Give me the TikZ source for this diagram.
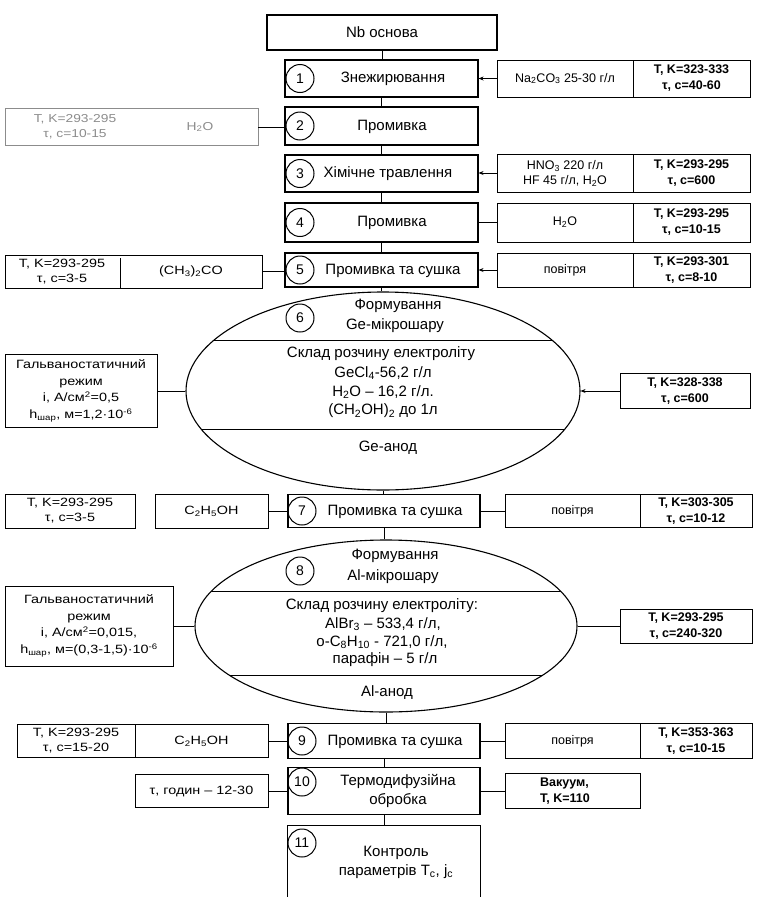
\documentclass[tikz,border=0pt]{standalone}
\usepackage{fontspec}
\setmainfont{Liberation Sans}
\newfontfamily\widesans[FakeStretch=1.2]{Liberation Sans}
\usetikzlibrary{shapes.geometric,arrows.meta}
\newcommand\sbs[1]{\textsubscript{#1}}
\newcommand\sps[1]{\textsuperscript{#1}}
\begin{document}
\begin{tikzpicture}[x=1pt,y=-1pt,
  box/.style={draw, line width=0.9pt, inner sep=0pt},
  wh/.style 2 args={minimum width=#1pt, minimum height=#2pt},
  mainbox/.style={box, line width=1.1pt},
  faint/.style={box, draw=black!45, line width=0.7pt},
  numc/.style={draw, circle, line width=1pt, minimum size=28pt, inner sep=0pt, font=\fontsize{14}{14}\selectfont},
  mt/.style={inner sep=0pt, align=center, font=\fontsize{15}{19}\selectfont},
  prm/.style={inner sep=0pt, align=center, font=\fontsize{12.5}{16}\selectfont\bfseries},
  ct/.style={inner sep=0pt, align=center, font=\fontsize{12.5}{15}\selectfont},
  gt/.style={inner sep=0pt, align=center, font=\widesans\fontsize{12}{15}\selectfont},
  galt/.style={inner sep=0pt, align=center, font=\widesans\fontsize{12}{16.5}\selectfont},
  ft/.style={inner sep=0pt, align=center, text=black!45, font=\widesans\fontsize{11.5}{15}\selectfont},
  con/.style={line width=1pt},
  arr/.style={line width=1pt, -{Stealth[length=5pt,width=4pt]}},
]
\useasboundingbox (0,0) rectangle (758,897);
\fill[white] (0,0) rectangle (758,897);

% ---------------- main column ----------------
\node[mainbox, wh={230}{35}] (nb) at (382,32.5) {};
\node[mt] (t0) at (382,32) {Nb основа};

\node[mainbox, wh={193}{37}] (b1) at (381.5,78.5) {};
\node[numc] (c1) at (300,78.5) {1};
\node[mt] (t1) at (393,78.5) {Знежирювання};

\node[mainbox, wh={193}{38}] (b2) at (381.5,126) {};
\node[numc] (c2) at (300,126) {2};
\node[mt] (t2) at (392,127) {Промивка};

\node[mainbox, wh={193}{37}] (b3) at (381.5,173.5) {};
\node[numc] (c3) at (300,173.5) {3};
\node[mt] (t3) at (388,174) {Хімічне травлення};

\node[mainbox, wh={193}{39}] (b4) at (381.5,222.5) {};
\node[numc] (c4) at (300,222.5) {4};
\node[mt] (t4) at (392,223) {Промивка};

\node[mainbox, wh={193}{34}] (b5) at (381.5,270) {};
\node[numc] (c5) at (300,270) {5};
\node[mt] (t5) at (393,271) {Промивка та сушка};

% ellipse 6
\node[draw, ellipse, line width=1.1pt, wh={394}{198}, inner sep=0pt] (e6) at (383,391) {};
\begin{scope}
  \clip (383,391) ellipse [x radius=197pt, y radius=99pt];
  \draw[con] (150,340) -- (620,340);
  \draw[con] (150,429) -- (620,429);
\end{scope}
\node[numc] (c6) at (300,318) {6};
\node[mt] (e6a) at (398,306) {Формування};
\node[mt] (e6b) at (395,326) {Ge-мікрошару};
\node[mt] (e6c) at (381,354) {Склад розчину електроліту};
\node[mt] (e6d) at (383,373) {GeCl\sbs{4}-56,2 г/л};
\node[mt] (e6e) at (383,392) {H\sbs{2}O – 16,2 г/л.};
\node[mt] (e6f) at (383,411) {(CH\sbs{2}OH)\sbs{2} до 1л};
\node[mt] (e6g) at (388,448) {Ge-анод};

\node[mainbox, wh={192}{33}] (b7) at (384,511) {};
\node[numc] (c7) at (302,511) {7};
\node[mt] (t7) at (395,512) {Промивка та сушка};

% ellipse 8
\node[draw, ellipse, line width=1.1pt, wh={382}{172}, inner sep=0pt] (e8) at (386,626) {};
\begin{scope}
  \clip (386,626) ellipse [x radius=191pt, y radius=86pt];
  \draw[con] (150,591) -- (620,591);
  \draw[con] (150,675) -- (620,675);
\end{scope}
\node[numc] (c8) at (300,571) {8};
\node[mt] (e8a) at (395,556) {Формування};
\node[mt] (e8b) at (393,577) {Al-мікрошару};
\node[mt] (e8c) at (382,606) {Склад розчину електроліту:};
\node[mt] (e8d) at (383,624) {AlBr\sbs{3} – 533,4 г/л,};
\node[mt] (e8e) at (382,642) {o-C\sbs{8}H\sbs{10} - 721,0 г/л,};
\node[mt] (e8f) at (385,660) {парафін – 5 г/л};
\node[mt] (e8g) at (387,693) {Al-анод};

\node[mainbox, wh={192}{35}] (b9) at (384,741) {};
\node[numc] (c9) at (302,741) {9};
\node[mt] (t9) at (395,742) {Промивка та сушка};

\node[mainbox, wh={192}{47}] (b10) at (384,791) {};
\node[numc] (c10) at (302,782) {10};
\node[mt] (t10) at (398,791) {Термодифузійна\\обробка};

\node[inner sep=0pt, wh={192}{71}] (b11) at (384,861.5) {};
\draw[line width=1.1pt] (b11.south west) -- (b11.north west) -- (b11.north east) -- (b11.south east);
\node[numc] (c11) at (302,843) {11};
\node[mt] (t11) at (396,862) {Контроль\\параметрів T\sbs{c}, j\sbs{c}};

% vertical links
\draw[con] (nb.south) -- (nb.south |- b1.north);
\draw[con] (b1.south) -- (b2.north);
\draw[con] (b2.south) -- (b3.north);
\draw[con] (b3.south) -- (b4.north);
\draw[con] (b4.south) -- (b5.north);
\draw[con] (b5.south) -- (b5.south |- e6.north);
\draw[con] (e6.south) -- (e6.south |- b7.north);
\draw[con] (b7.south) -- (b7.south |- e8.north);
\draw[con] (e8.south) -- (e8.south |- b9.north);
\draw[con] (b9.south) -- (b10.north);
\draw[con] (b10.south) -- (b11.north);

% ---------------- right side ----------------
\node[box, wh={136}{37}, ct] (r1a) at (565,78.5) {Na\sbs{2}CO\sbs{3} 25-30 г/л};
\node[box, wh={117}{37}, prm] (r1b) at (691.5,78.5) {T, K=323-333\\τ, с=40-60};
\node[box, wh={136}{38}, ct] (r3a) at (565,173) {HNO\sbs{3} 220 г/л\\HF 45 г/л, H\sbs{2}O};
\node[box, wh={117}{38}, prm] (r3b) at (691.5,173) {T, K=293-295\\τ, с=600};
\node[box, wh={136}{39}, ct] (r4a) at (565,222.5) {H\sbs{2}O};
\node[box, wh={117}{39}, prm] (r4b) at (691.5,222.5) {T, K=293-295\\τ, с=10-15};
\node[box, wh={136}{34}, ct] (r5a) at (565,270) {повітря};
\node[box, wh={117}{34}, prm] (r5b) at (691.5,270) {T, K=293-301\\τ, с=8-10};
\node[box, wh={130}{35}, prm] (r6) at (685,391) {T, K=328-338\\τ, с=600};
\node[box, wh={135}{33}, ct] (r7a) at (572.5,511) {повітря};
\node[box, wh={112}{33}, prm] (r7b) at (696,511) {T, K=303-305\\τ, с=10-12};
\node[box, wh={132}{34}, prm] (r8) at (686,626) {T, K=293-295\\τ, с=240-320};
\node[box, wh={135}{35}, ct] (r9a) at (572.5,741) {повітря};
\node[box, wh={112}{35}, prm] (r9b) at (696,741) {T, K=353-363\\τ, с=10-15};
\node[box, wh={135}{35}] (r10) at (572.5,791) {};
\node[ct, align=left, font=\fontsize{12.5}{16}\selectfont\bfseries] (r10t) at (565,791) {Вакуум,\\T, K=110};

\draw[arr] (r1a.west) -- (b1.east);
\draw[arr] (r3a.west) -- (r3a.west -| b3.east);
\draw[con] (r4a.west) -- (b4.east);
\draw[arr] (r5a.west) -- (b5.east);
\draw[arr] (r6.west) -- (r6.west -| e6.east);
\draw[con] (r7a.west) -- (b7.east);
\draw[con] (r8.west) -- (e8.east);
\draw[con] (r9a.west) -- (b9.east);
\draw[con] (r10.west) -- (b10.east);

% ---------------- left side ----------------
\node[faint, wh={253}{37}] (l2) at (131.5,127) {};
\node[ft] (l2t) at (75,127) {T, K=293-295\\τ, с=10-15};
\node[ft] (l2h) at (200,127) {H\sbs{2}O};

\node[box, wh={257}{33}] (l5) at (133.5,271.5) {};
\draw[line width=0.7pt] (120,258) -- (120,288);
\node[gt] (l5t) at (62,271.5) {T, K=293-295\\τ, с=3-5};
\node[gt] (l5h) at (191,271.5) {(CH\sbs{3})\sbs{2}CO};

\node[box, wh={152}{73}, galt] (g6) at (81,391) {Гальваностатичний\\режим\\i, А/см\sps{2}=0,5\\h\sbs{шар}, м=1,2·10\sps{-6}};

\node[box, wh={130}{34}, gt] (l7a) at (70,511) {T, K=293-295\\τ, с=3-5};
\node[box, wh={113}{34}, gt] (l7b) at (211.5,511) {C\sbs{2}H\sbs{5}OH};

\node[box, wh={168}{80}, galt] (g8) at (89,626) {Гальваностатичний\\режим\\i, А/см\sps{2}=0,015,\\h\sbs{шар}, м=(0,3-1,5)·10\sps{-6}};

\node[box, wh={118}{33}, gt] (l9a) at (76,741) {T, K=293-295\\τ, с=15-20};
\node[box, wh={133}{33}, gt] (l9b) at (201.5,741) {C\sbs{2}H\sbs{5}OH};
\node[box, wh={133}{33}, gt] (l10) at (201.5,791) {τ, годин – 12-30};

\draw[con] (l2.east) -- (l2.east -| b2.west);
\draw[con] (l5.east) -- (l5.east -| b5.west);
\draw[con] (g6.east) -- (e6.west);
\draw[con] (l7b.east) -- (b7.west);
\draw[con] (g8.east) -- (e8.west);
\draw[con] (l9b.east) -- (b9.west);
\draw[con] (l10.east) -- (b10.west);
\end{tikzpicture}
\end{document}
